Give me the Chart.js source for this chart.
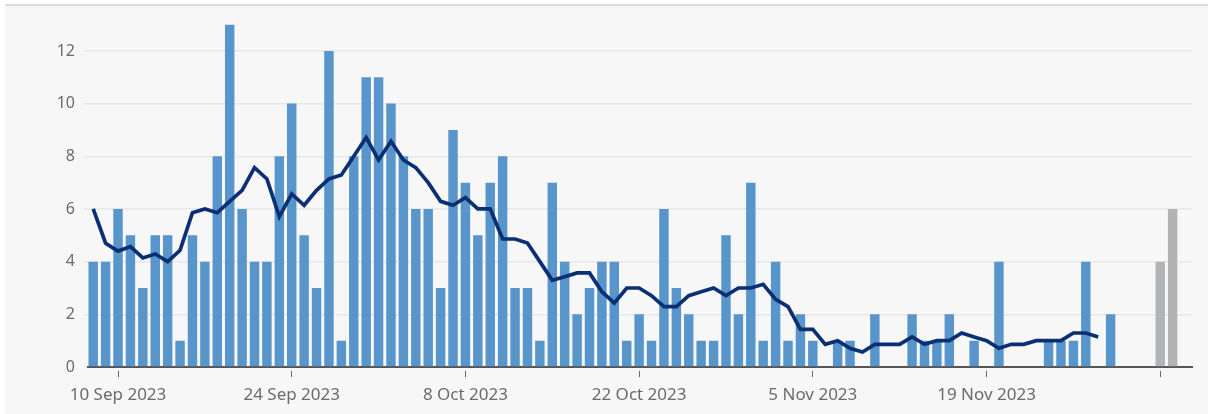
<!DOCTYPE html>
<html lang="en">
<head>
<meta charset="UTF-8" />
<title>Daily count</title>
<script src="https://cdn.jsdelivr.net/npm/chart.js@4.4.0/dist/chart.umd.min.js"></script>
<style>
  html, body { margin:0; padding:0; background:#ffffff; }
  #card { position:absolute; left:5px; top:4px; width:1203px; height:408px;
          border-top:2px solid #dcdcdc; background:#f7f7f7; }
  #c { display:block; }
</style>
</head>
<body>
<div id="card"><canvas id="c" width="1203" height="408"></canvas></div>
<script>
// day 0 = 8 Sep 2023
const barValues = [
  4,4,6,5,3,5,5,1,5,4,
  8,13,6,4,4,8,10,5,3,12,
  1,8,11,11,10,8,6,6,3,9,
  7,5,7,8,3,3,1,7,4,2,
  3,4,4,1,2,1,6,3,2,1,
  1,5,2,7,1,4,1,2,1,0,
  1,1,0,2,0,0,2,1,1,2,
  0,1,0,4,0,0,0,1,1,1,
  4,0,2
];
// 3 Dec, 4 Dec (incomplete)
const greyDays = [86, 87];
const greyValues = [4, 6];
// rolling average, 8 Sep .. 28 Nov
const avgValues = [
  6.0,4.7,4.4,4.57,4.14,4.29,4.0,4.43,5.86,6.0,
  5.86,6.29,6.71,7.57,7.14,5.71,6.57,6.14,6.71,7.14,
  7.29,8.0,8.71,7.86,8.57,7.86,7.57,7.0,6.29,6.14,
  6.43,6.0,6.0,4.86,4.86,4.71,4.0,3.29,3.43,3.57,
  3.57,2.86,2.43,3.0,3.0,2.71,2.29,2.29,2.71,2.86,
  3.0,2.71,3.0,3.0,3.14,2.57,2.29,1.43,1.43,0.86,
  1.0,0.71,0.57,0.86,0.86,0.86,1.14,0.86,1.0,1.0,
  1.29,1.14,1.0,0.71,0.86,0.86,1.0,1.0,1.0,1.29,
  1.29,1.14
];
const tickDays = [2, 16, 30, 44, 58, 72, 86];
const tickLabels = ['10 Sep 2023','24 Sep 2023','8 Oct 2023','22 Oct 2023','5 Nov 2023','19 Nov 2023',''];

const barPts = barValues.map((v, i) => ({x: i, y: v}));
const greyPts = greyValues.map((v, i) => ({x: greyDays[i], y: v}));
const avgPts = avgValues.map((v, i) => ({x: i, y: v}));

const family = '"Noto Sans", sans-serif';

new Chart(document.getElementById('c'), {
  type: 'bar',
  data: {
    datasets: [
      {
        type: 'line',
        data: avgPts,
        borderColor: '#0a2f73',
        borderWidth: 3.7,
        pointRadius: 0,
        tension: 0,
        order: 0
      },
      {
        data: barPts,
        backgroundColor: '#5895cb',
        barPercentage: 0.76,
        categoryPercentage: 1,
        grouped: false,
        order: 1
      },
      {
        data: greyPts,
        backgroundColor: '#b1b3b5',
        barPercentage: 0.76,
        categoryPercentage: 1,
        grouped: false,
        order: 1
      }
    ]
  },
  options: {
    responsive: false,
    animation: false,
    layout: {padding: {top: 16, right: 16, left: 0, bottom: 0}},
    plugins: {legend: {display: false}, tooltip: {enabled: false}},
    scales: {
      x: {
        type: 'linear',
        offset: false,
        min: -0.42,
        max: 88.56,
        afterBuildTicks: (s) => { s.ticks = tickDays.map(v => ({value: v})); },
        afterFit: (s) => { s.height = 47; },
        ticks: {
          callback: (v) => tickLabels[tickDays.indexOf(v)],
          font: {family: family, size: 17},
          color: '#6b6b6b',
          padding: 8,
          maxRotation: 0,
          autoSkip: false
        },
        grid: {
          offset: false,
          drawOnChartArea: false,
          drawTicks: true,
          tickLength: 10,
          tickColor: '#666666',
          tickWidth: 1,
          tickBorderDash: [0, 3, 6, 20]
        },
        border: {display: true, color: '#555555', width: 2}
      },
      y: {
        min: 0,
        max: 13,
        afterFit: (s) => { s.width = 83; },
        ticks: {
          stepSize: 2,
          includeBounds: false,
          font: {family: family, size: 16},
          color: '#6b6b6b',
          padding: 9
        },
        grid: {
          color: '#e8e8e8',
          lineWidth: 1.5,
          tickLength: 4
        },
        border: {display: false}
      }
    }
  }
});
</script>
</body>
</html>
